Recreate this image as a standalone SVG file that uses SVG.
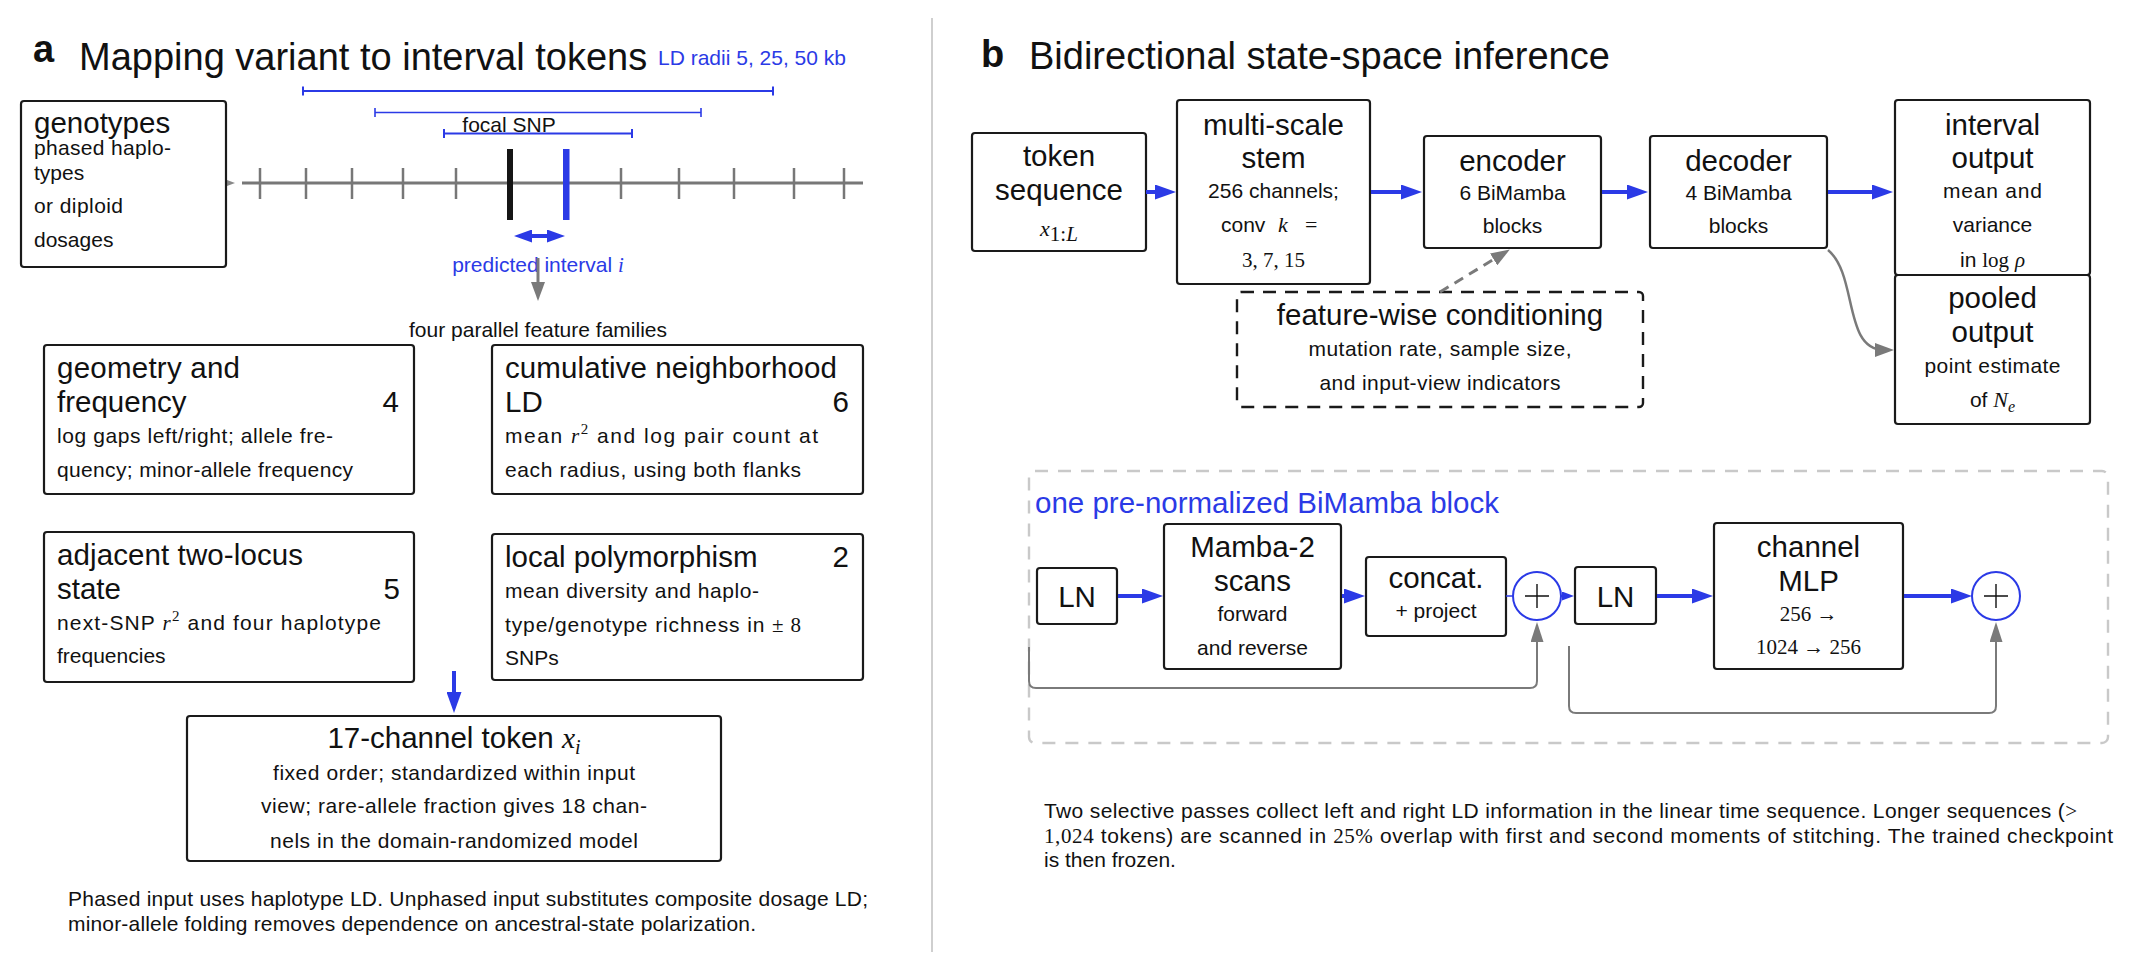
<svg xmlns="http://www.w3.org/2000/svg" width="2145" height="971" viewBox="0 0 2145 971">
<defs>
<style>
text{font-family:"Liberation Sans",Arial,Helvetica,sans-serif;fill:#111}
.ttl{font-size:38px}
.lab{font-size:38px;font-weight:bold}
.big{font-size:29.5px}
.sm{font-size:21px}
.m{font-family:"Liberation Serif","DejaVu Serif",serif}
.mi{font-family:"Liberation Serif","DejaVu Serif",serif;font-style:italic}
.blue{fill:#2b3ae6}
.c{text-anchor:middle}
.e{text-anchor:end}
.box{fill:#fff;stroke:#1a1a1a;stroke-width:2.2}
.dbox{fill:none;stroke:#1a1a1a;stroke-width:2.4;stroke-dasharray:13 9}
.obox{fill:none;stroke:#c9c9c9;stroke-width:2.4;stroke-dasharray:13 10}
.ba{fill:none;stroke:#2b3ae6;stroke-width:4}
.ga{fill:none;stroke:#7a7a7a}
.tick{stroke:#777;stroke-width:2.5}
</style>
<marker id="ab" viewBox="0 0 21 15" refX="10" refY="7.5" markerWidth="21" markerHeight="15" markerUnits="userSpaceOnUse" orient="auto-start-reverse"><path d="M0,0 L21,7.5 L0,15 z" fill="#2b3ae6"/></marker>
<marker id="ab2" viewBox="0 0 18 13" refX="9" refY="6.5" markerWidth="18" markerHeight="13" markerUnits="userSpaceOnUse" orient="auto-start-reverse"><path d="M0,0 L18,6.5 L0,13 z" fill="#2b3ae6"/></marker>
<marker id="abs" viewBox="0 0 12 9" refX="6" refY="4.5" markerWidth="12" markerHeight="9" markerUnits="userSpaceOnUse" orient="auto"><path d="M0,0 L12,4.5 L0,9 z" fill="#2b3ae6"/></marker>
<marker id="ag" viewBox="0 0 19 14" refX="9" refY="7" markerWidth="19" markerHeight="14" markerUnits="userSpaceOnUse" orient="auto"><path d="M0,0 L19,7 L0,14 z" fill="#7a7a7a"/></marker>
<marker id="ags" viewBox="0 0 20 13" refX="10" refY="6.5" markerWidth="20" markerHeight="13" markerUnits="userSpaceOnUse" orient="auto"><path d="M0,0 L20,6.5 L0,13 z" fill="#7a7a7a"/></marker>
</defs>
<rect width="2145" height="971" fill="#fff"/>

<!-- panel a header -->
<g id="panel-a-title">
<text x="33" y="62" class="lab">a</text>
<text x="79" y="70" class="ttl">Mapping variant to interval tokens</text>
<text x="658" y="65" class="sm blue">LD radii 5, 25, 50 kb</text>
</g>

<!-- LD radii brackets -->
<g id="ld-radii" stroke="#2b3ae6">
<line x1="303" y1="91" x2="773" y2="91" stroke-width="2"/>
<line x1="303" y1="86.5" x2="303" y2="95.5" stroke-width="2"/>
<line x1="773" y1="86.5" x2="773" y2="95.5" stroke-width="2"/>
<line x1="375" y1="112.5" x2="701" y2="112.5" stroke-width="1.3"/>
<line x1="375" y1="108" x2="375" y2="117" stroke-width="1.6"/>
<line x1="701" y1="108" x2="701" y2="117" stroke-width="1.6"/>
<line x1="444" y1="133.5" x2="632" y2="133.5" stroke-width="2"/>
<line x1="444" y1="129" x2="444" y2="138" stroke-width="2"/>
<line x1="632" y1="129" x2="632" y2="138" stroke-width="2"/>
</g>
<text x="509" y="132" class="sm c" fill="#222">focal SNP</text>

<!-- axis -->
<g id="snp-axis">
<polygon points="227,180 235,183 227,186" fill="#888"/>
<line x1="242" y1="183" x2="863" y2="183" stroke="#777" stroke-width="3"/>
<line class="tick" x1="260" y1="168" x2="260" y2="199"/>
<line class="tick" x1="306" y1="168" x2="306" y2="199"/>
<line class="tick" x1="352" y1="168" x2="352" y2="199"/>
<line class="tick" x1="403" y1="168" x2="403" y2="199"/>
<line class="tick" x1="456" y1="168" x2="456" y2="199"/>
<line class="tick" x1="621" y1="168" x2="621" y2="199"/>
<line class="tick" x1="679" y1="168" x2="679" y2="199"/>
<line class="tick" x1="734" y1="168" x2="734" y2="199"/>
<line class="tick" x1="794" y1="168" x2="794" y2="199"/>
<line class="tick" x1="844" y1="168" x2="844" y2="199"/>
<rect x="507" y="149" width="6" height="71" fill="#151515"/>
<rect x="563" y="149" width="6.5" height="71" fill="#2b3ae6"/>
</g>
<text x="538" y="272" class="sm c blue">predicted interval <tspan class="mi">i</tspan></text>

<!-- nodes panel a -->
<g id="genotypes">
<rect class="box" x="21" y="101" width="205" height="166" rx="3"/>
<text x="34" y="133" class="big">genotypes</text>
<text x="34" y="155" class="sm" textLength="137" lengthAdjust="spacing">phased haplo-</text>
<text x="34" y="180" class="sm">types</text>
<text x="34" y="213" class="sm" textLength="89" lengthAdjust="spacing">or diploid</text>
<text x="34" y="247" class="sm">dosages</text>
</g>
<text x="538" y="337" class="sm c">four parallel feature families</text>

<g id="geometry-frequency">
<rect class="box" x="44" y="345" width="370" height="149" rx="3"/>
<text x="57" y="378" class="big" textLength="183" lengthAdjust="spacing">geometry and</text>
<text x="57" y="412" class="big">frequency</text>
<text x="399" y="412" class="big e">4</text>
<text x="57" y="443" class="sm" textLength="276" lengthAdjust="spacing">log gaps left/right; allele fre-</text>
<text x="57" y="477" class="sm" textLength="296" lengthAdjust="spacing">quency; minor-allele frequency</text>
</g>

<g id="cumulative-ld">
<rect class="box" x="492" y="345" width="371" height="149" rx="3"/>
<text x="505" y="378" class="big" textLength="332" lengthAdjust="spacing">cumulative neighborhood</text>
<text x="505" y="412" class="big">LD</text>
<text x="849" y="412" class="big e">6</text>
<text x="505" y="443" class="sm" textLength="313" lengthAdjust="spacing">mean <tspan class="mi">r</tspan><tspan class="m" font-size="15" dy="-9">2</tspan><tspan dy="9"> and log pair count at</tspan></text>
<text x="505" y="477" class="sm" textLength="296" lengthAdjust="spacing">each radius, using both flanks</text>
</g>

<g id="adjacent-two-locus">
<rect class="box" x="44" y="532" width="370" height="150" rx="3"/>
<text x="57" y="565" class="big" textLength="246" lengthAdjust="spacing">adjacent two-locus</text>
<text x="57" y="599" class="big">state</text>
<text x="400" y="599" class="big e">5</text>
<text x="57" y="630" class="sm" textLength="324" lengthAdjust="spacing">next-SNP <tspan class="mi">r</tspan><tspan class="m" font-size="15" dy="-9">2</tspan><tspan dy="9"> and four haplotype</tspan></text>
<text x="57" y="663" class="sm">frequencies</text>
</g>

<g id="local-polymorphism">
<rect class="box" x="492" y="534" width="371" height="146" rx="3"/>
<text x="505" y="567" class="big">local polymorphism</text>
<text x="849" y="567" class="big e">2</text>
<text x="505" y="598" class="sm" textLength="254" lengthAdjust="spacing">mean diversity and haplo-</text>
<text x="505" y="632" class="sm" textLength="296" lengthAdjust="spacing">type/genotype richness in <tspan class="m">± 8</tspan></text>
<text x="505" y="665" class="sm">SNPs</text>
</g>

<g id="token-17">
<rect class="box" x="187" y="716" width="534" height="145" rx="3"/>
<text x="454" y="748" class="big c">17-channel token <tspan class="mi">x</tspan><tspan class="mi" font-size="20" dy="6">i</tspan></text>
<text x="454" y="780" class="sm c" textLength="362" lengthAdjust="spacing">fixed order; standardized within input</text>
<text x="454" y="813" class="sm c" textLength="386" lengthAdjust="spacing">view; rare-allele fraction gives 18 chan-</text>
<text x="454" y="848" class="sm c" textLength="368" lengthAdjust="spacing">nels in the domain-randomized model</text>
</g>

<g id="footnote-a">
<text x="68" y="906" class="sm" textLength="800" lengthAdjust="spacing">Phased input uses haplotype LD. Unphased input substitutes composite dosage LD;</text>
<text x="68" y="931" class="sm" textLength="688" lengthAdjust="spacing">minor-allele folding removes dependence on ancestral-state polarization.</text>
</g>

<line id="divider" x1="932" y1="18" x2="932" y2="952" stroke="#cfcfcf" stroke-width="2"/>

<!-- panel b -->
<g id="panel-b-title">
<text x="981" y="67" class="lab">b</text>
<text x="1029" y="69" class="ttl">Bidirectional state-space inference</text>
</g>

<g id="token-sequence">
<rect class="box" x="972" y="133" width="174" height="118" rx="3"/>
<text x="1059" y="166" class="big c">token</text>
<text x="1059" y="200" class="big c">sequence</text>
<text x="1059" y="236" class="sm c"><tspan class="mi" font-size="22">x</tspan><tspan class="m" font-size="21" dy="5">1:</tspan><tspan class="mi" font-size="21">L</tspan></text>
</g>

<g id="multi-scale-stem">
<rect class="box" x="1177" y="100" width="193" height="184" rx="3"/>
<text x="1273.5" y="135" class="big c">multi-scale</text>
<text x="1273.5" y="168" class="big c">stem</text>
<text x="1273.5" y="198" class="sm c">256 channels;</text>
<text x="1221" y="232" class="sm">conv</text>
<text x="1278" y="232" class="mi" font-size="22">k</text>
<text x="1305" y="232" class="m" font-size="22">=</text>
<text x="1273.5" y="267" class="m c" font-size="21">3, 7, 15</text>
</g>

<g id="encoder">
<rect class="box" x="1424" y="136" width="177" height="112" rx="3"/>
<text x="1512.5" y="171" class="big c">encoder</text>
<text x="1512.5" y="200" class="sm c">6 BiMamba</text>
<text x="1512.5" y="233" class="sm c">blocks</text>
</g>

<g id="decoder">
<rect class="box" x="1650" y="136" width="177" height="112" rx="3"/>
<text x="1738.5" y="171" class="big c">decoder</text>
<text x="1738.5" y="200" class="sm c">4 BiMamba</text>
<text x="1738.5" y="233" class="sm c">blocks</text>
</g>

<g id="interval-output">
<rect class="box" x="1895" y="100" width="195" height="175" rx="3"/>
<text x="1992.5" y="135" class="big c">interval</text>
<text x="1992.5" y="168" class="big c">output</text>
<text x="1992.5" y="198" class="sm c" textLength="99" lengthAdjust="spacing">mean and</text>
<text x="1992.5" y="232" class="sm c">variance</text>
<text x="1992.5" y="267" class="sm c">in <tspan class="m">log</tspan> <tspan class="mi">ρ</tspan></text>
</g>

<g id="pooled-output">
<rect class="box" x="1895" y="275" width="195" height="149" rx="3"/>
<text x="1992.5" y="308" class="big c">pooled</text>
<text x="1992.5" y="342" class="big c">output</text>
<text x="1992.5" y="373" class="sm c" textLength="136" lengthAdjust="spacing">point estimate</text>
<text x="1992.5" y="407" class="sm c">of <tspan class="mi" font-size="22">N</tspan><tspan class="mi" font-size="16" dy="5">e</tspan></text>
</g>

<g id="feature-wise-conditioning">
<rect class="dbox" x="1237" y="292" width="406" height="115" rx="4"/>
<text x="1440" y="325" class="big c">feature-wise conditioning</text>
<text x="1440" y="356" class="sm c" textLength="263" lengthAdjust="spacing">mutation rate, sample size,</text>
<text x="1440" y="390" class="sm c" textLength="241" lengthAdjust="spacing">and input-view indicators</text>
</g>

<g id="bimamba-block">
<rect class="obox" x="1029" y="471" width="1079" height="272" rx="6"/>
<text x="1035" y="513" class="big blue">one pre-normalized BiMamba block</text>
</g>

<g id="ln-1">
<rect class="box" x="1037" y="568" width="80" height="56" rx="3"/>
<text x="1077" y="607" class="big c">LN</text>
</g>

<g id="mamba-scans">
<rect class="box" x="1164" y="524" width="177" height="145" rx="3"/>
<text x="1252.5" y="557" class="big c">Mamba-2</text>
<text x="1252.5" y="591" class="big c">scans</text>
<text x="1252.5" y="621" class="sm c">forward</text>
<text x="1252.5" y="655" class="sm c">and reverse</text>
</g>

<g id="concat-project">
<rect class="box" x="1366" y="557" width="140" height="79" rx="3"/>
<text x="1436" y="588" class="big c">concat.</text>
<text x="1436" y="618" class="sm c">+ project</text>
</g>

<g id="add-1">
<circle cx="1537" cy="596" r="24" fill="#fff" stroke="#2b3ae6" stroke-width="2"/>
<path d="M1525,596 H1549 M1537,584 V608" stroke="#111" stroke-width="1.4"/>
</g>

<g id="ln-2">
<rect class="box" x="1575" y="567" width="81" height="57" rx="3"/>
<text x="1615.5" y="607" class="big c">LN</text>
</g>

<g id="channel-mlp">
<rect class="box" x="1714" y="523" width="189" height="146" rx="3"/>
<text x="1808.5" y="557" class="big c">channel</text>
<text x="1808.5" y="591" class="big c">MLP</text>
<text x="1808.5" y="621" class="m c" font-size="21">256 →</text>
<text x="1808.5" y="654" class="m c" font-size="21">1024 → 256</text>
</g>

<g id="add-2">
<circle cx="1996" cy="596" r="24" fill="#fff" stroke="#2b3ae6" stroke-width="2"/>
<path d="M1984,596 H2008 M1996,584 V608" stroke="#111" stroke-width="1.4"/>
</g>

<g id="footnote-b">
<text x="1044" y="818" class="sm" textLength="1033" lengthAdjust="spacing">Two selective passes collect left and right LD information in the linear time sequence.  Longer sequences (<tspan class="m">&gt;</tspan></text>
<text x="1044" y="843" class="sm" textLength="1069" lengthAdjust="spacing"><tspan class="m">1,024</tspan> tokens) are scanned in <tspan class="m">25%</tspan> overlap with first and second moments of stitching.  The trained checkpoint</text>
<text x="1044" y="867" class="sm">is then frozen.</text>
</g>

<!-- connectors -->
<g id="connectors">
<line class="ba" x1="523" y1="236" x2="556" y2="236" stroke-width="3.5" marker-start="url(#ab2)" marker-end="url(#ab2)"/>
<line class="ga" x1="538" y1="258" x2="538" y2="291" stroke-width="3" marker-end="url(#ag)"/>
<line class="ba" x1="454" y1="671" x2="454" y2="702" marker-end="url(#ab)"/>
<line class="ba" x1="1146" y1="192" x2="1165" y2="192" marker-end="url(#ab)"/>
<line class="ba" x1="1371" y1="192" x2="1411" y2="192" marker-end="url(#ab)"/>
<line class="ba" x1="1602" y1="192" x2="1637" y2="192" marker-end="url(#ab)"/>
<line class="ba" x1="1828" y1="192" x2="1882" y2="192" marker-end="url(#ab)"/>
<path class="ga" d="M1828,250 C1858,275 1843,350 1884,350" stroke-width="2.5" marker-end="url(#ag)"/>
<line class="ga" x1="1440" y1="292" x2="1501.3" y2="254.7" stroke-width="3" stroke-dasharray="10 7" marker-end="url(#ag)"/>
<line class="ba" x1="1118" y1="596" x2="1152" y2="596" marker-end="url(#ab)"/>
<line class="ba" x1="1342" y1="596" x2="1354" y2="596" marker-end="url(#ab)"/>
<line x1="1506" y1="596" x2="1513" y2="596" stroke="#2b3ae6" stroke-width="1.5"/>
<line x1="1561" y1="596" x2="1568" y2="596" stroke="#2b3ae6" stroke-width="1.5" marker-end="url(#abs)"/>
<line class="ba" x1="1657" y1="596" x2="1702" y2="596" marker-end="url(#ab)"/>
<line class="ba" x1="1904" y1="596" x2="1961" y2="596" marker-end="url(#ab)"/>
<path class="ga" d="M1029,647 L1029,681 Q1029,688 1036,688 L1530,688 Q1537,688 1537,681 L1537,632" stroke-width="2" marker-end="url(#ags)"/>
<path class="ga" d="M1569,646 L1569,706 Q1569,713 1576,713 L1989,713 Q1996,713 1996,706 L1996,632" stroke-width="2" marker-end="url(#ags)"/>
</g>
</svg>
